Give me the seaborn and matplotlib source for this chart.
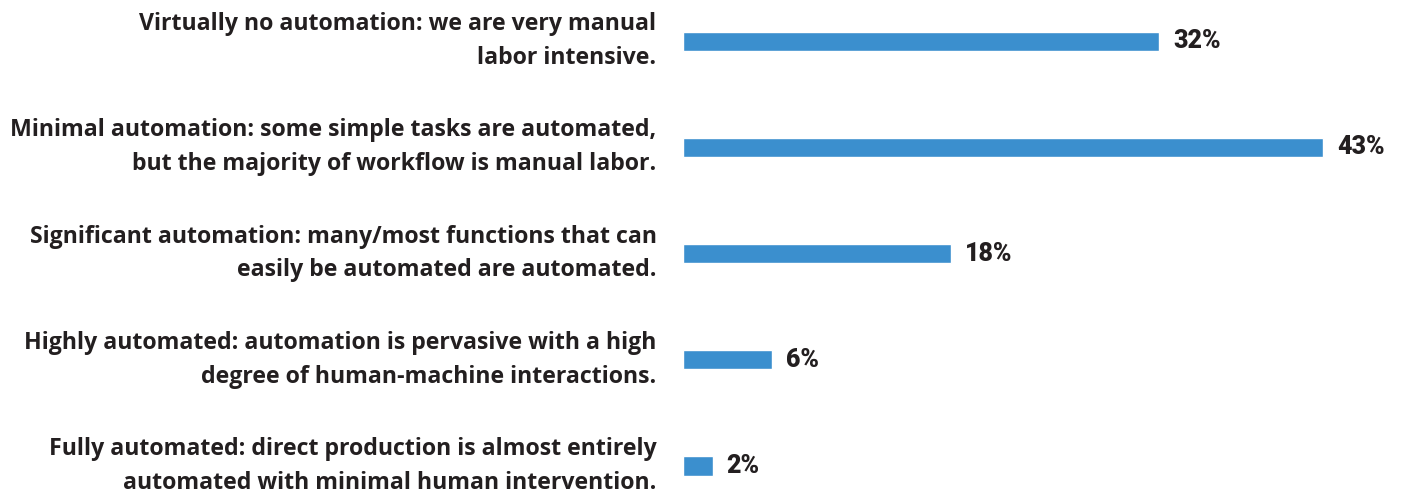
import seaborn as sns
import matplotlib.pyplot as plt
import pandas as pd

# survey answers and shares
levels = [
    "Virtually no automation: we are very manual\nlabor intensive.",
    "Minimal automation: some simple tasks are automated,\nbut the majority of workflow is manual labor.",
    "Significant automation: many/most functions that can\neasily be automated are automated.",
    "Highly automated: automation is pervasive with a high\ndegree of human-machine interactions.",
    "Fully automated: direct production is almost entirely\nautomated with minimal human intervention.",
]
shares = [32, 43, 18, 6, 2]

df = pd.DataFrame({"level": levels, "share": shares})

sns.set_theme(style="white")
plt.rcParams["font.family"] = ["Open Sans", "DejaVu Sans"]

fig = plt.figure(figsize=(14.02, 4.92), dpi=100)
ax = fig.add_axes([683 / 1402, 0, 1 - 683 / 1402, 1])

sns.barplot(data=df, y="level", x="share", orient="h", color="#3b8fce",
            saturation=1, width=0.18, ax=ax)

ax.set_xlim(0, 48.3)
ax.set_ylim(4.245, -0.387)
ax.set_xlabel("")
ax.set_ylabel("")
ax.set_xticks([])
sns.despine(ax=ax, left=True, bottom=True)

ax.tick_params(axis="y", length=0, pad=19)
for lbl in ax.get_yticklabels():
    lbl.set_fontsize(16.7)
    lbl.set_fontweight("bold")
    lbl.set_color("#231f20")
    lbl.set_linespacing(1.55)
    lbl.set_verticalalignment("center")

ax.bar_label(ax.containers[0], labels=[f"{v}%" for v in shares], padding=10,
             fontsize=18, fontweight="black", color="#231f20", family="Roboto")

fig.savefig("out.png", dpi=100)
